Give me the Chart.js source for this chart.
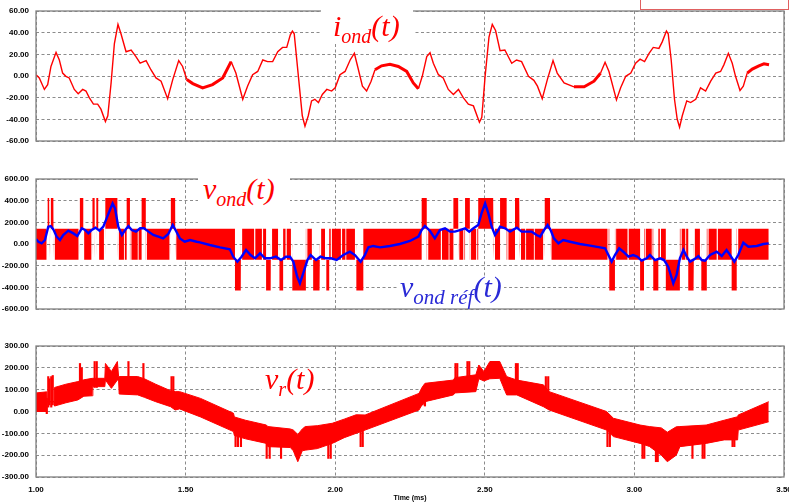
<!DOCTYPE html>
<html><head><meta charset="utf-8">
<script src="https://cdn.jsdelivr.net/npm/chart.js@4"></script>
<style>
body{margin:0;background:#fff;width:789px;height:503px;overflow:hidden;position:relative;}
canvas{position:absolute;left:0;}
.box{position:absolute;background:#fff;}
.lab{position:absolute;font-family:"Liberation Serif","DejaVu Serif",serif;font-style:italic;white-space:nowrap;line-height:30px;font-size:30px;}
.lab .s{position:relative;top:7px;font-size:20px;}
.legendbox{position:absolute;left:640px;top:-2px;width:147px;height:10px;border:1px solid #e06060;background:#fff;}
</style></head><body>
<canvas id="c1" width="789" height="155" style="top:0"></canvas>
<canvas id="c2" width="789" height="165" style="top:155px"></canvas>
<canvas id="c3" width="789" height="183" style="top:320px"></canvas>
<div class="legendbox"></div>
<div class="box" style="left:321px;top:0;width:92px;height:44px"></div>
<div class="lab" style="left:333px;top:11px;color:#ff0000">i<span class="s">ond</span>(t)</div>
<div class="box" style="left:198px;top:165px;width:92px;height:61px"></div>
<div class="lab" style="left:203px;top:174px;color:#ff0000">v<span class="s">ond</span>(t)</div>
<div class="box" style="left:398px;top:276px;width:106px;height:32px"></div>
<div class="lab" style="left:400px;top:272px;color:#2a2ad6">v<span class="s" style="font-size:21px">ond réf</span>(t)</div>
<div class="box" style="left:262px;top:371px;width:56px;height:29px"></div>
<div class="lab" style="left:265px;top:364px;color:#ff0000">v<span class="s">r</span>(t)</div>
<script>
// ---------- Panel 1 : i_ond(t) ----------
const iondT = [1.000,1.011,1.028,1.039,1.050,1.067,1.078,1.089,1.100,1.111,1.128,1.141,1.156,1.167,1.178,1.192,1.206,1.217,1.232,1.240,1.251,1.262,1.274,1.284,1.301,1.318,1.334,1.348,1.368,1.384,1.401,1.418,1.440,1.457,1.477,1.490,1.504,1.524,1.557,1.590,1.624,1.652,1.668,1.691,1.707,1.724,1.741,1.758,1.774,1.791,1.808,1.824,1.838,1.850,1.857,1.863,1.877,1.890,1.899,1.910,1.921,1.932,1.944,1.957,1.972,1.988,2.000,2.016,2.033,2.050,2.064,2.075,2.091,2.105,2.120,2.133,2.155,2.183,2.211,2.239,2.261,2.278,2.291,2.306,2.317,2.328,2.345,2.361,2.378,2.395,2.412,2.428,2.445,2.462,2.482,2.490,2.501,2.514,2.525,2.536,2.551,2.567,2.590,2.606,2.623,2.646,2.664,2.676,2.692,2.709,2.728,2.742,2.765,2.798,2.832,2.865,2.887,2.902,2.915,2.940,2.954,2.971,2.988,3.004,3.019,3.034,3.049,3.063,3.082,3.093,3.107,3.113,3.123,3.134,3.143,3.151,3.160,3.175,3.188,3.205,3.221,3.238,3.255,3.272,3.288,3.299,3.314,3.327,3.338,3.353,3.364,3.377,3.394,3.416,3.433,3.450];
const iondV = [1.2,-1.8,-12.4,-8,8.8,21.8,14.8,2.7,-0.3,-1.8,-12.4,-16.4,-12.4,-13.9,-20,-26,-26,-30.6,-42,-36.7,-6.4,30,47.6,39,22.4,24,17.9,11.8,14.2,5.8,-1.8,-4.8,-20.9,-3.3,14.2,8.8,-3.3,-7,-10.9,-7.9,-1.8,13.3,2.7,-21.5,-9.4,1.2,4.2,14.8,13.3,13.3,22.4,26.4,26.4,38,41.5,39,-0.3,-36.7,-46.4,-36.7,-23,-21.5,-24.5,-17,-12.4,-13.9,-10.9,1.2,4.2,14.8,20.9,8.8,-9.4,-13.9,-4.8,5.8,9.4,10.9,8.8,4.2,-6.4,-11.8,-0.3,17.9,21.5,11.8,1.2,-1.8,-12.4,-17,-12.4,-20,-26,-27.6,-42.7,-38.2,-0.3,36,47.6,42,23.3,24,11.8,14.8,13.3,-0.3,-4,-9.4,-20.9,-3.3,14.2,2.7,-6.4,-10,-10,-4.8,2.7,12.7,4.2,-22.1,-10.9,-0.3,2.7,11.8,15.5,13.3,20.9,26.4,25.5,31.5,41.5,39,14.8,-21.5,-39.7,-47.3,-36.7,-23,-24.5,-21.5,-10.9,-13.9,-4.8,2.7,4.2,10.3,20.9,11.8,-0.3,-13.3,-9.4,2.7,6.4,9.4,11.2,10.3];
const iondRipple = [[1.50,1.63],[2.13,2.27],[2.77,2.88],[3.37,3.45]];

// ---------- Panel 2 : v_ond(t) PWM levels and v_ond ref(t) ----------
const pwmLevels = [-430,-145,140,425];
const pwmSpan = [1.000,3.449];
const pwmPos = [[1.039,1.044],[1.050,1.058],[1.147,1.158],[1.189,1.196],[1.202,1.208],[1.232,1.272],[1.303,1.314],[1.353,1.367],[1.451,1.465],[2.289,2.306],[2.395,2.411],[2.434,2.450],[2.478,2.528],[2.551,2.573],[2.601,2.615],[2.701,2.718]];
const pwmNeg = [[1.665,1.684],[1.769,1.784],[1.815,1.826],[1.858,1.902],[1.927,1.947],[1.971,1.980],[2.072,2.094],[2.916,2.935],[3.019,3.032],[3.063,3.080],[3.105,3.152],[3.180,3.197],[3.225,3.242],[3.325,3.342]];
const pwmGap = [[1.035,1.039],[1.045,1.049],[1.059,1.063],[1.142,1.146],[1.158,1.161],[1.185,1.188],[1.197,1.201],[1.208,1.211],[1.227,1.231],[1.273,1.277],[1.294,1.297],[1.315,1.319],[1.340,1.343],[1.368,1.371],[1.446,1.450],[1.466,1.469],
  [1.685,1.689],[1.729,1.733],[1.755,1.759],[1.785,1.789],[1.809,1.813],[1.834,1.838],[1.852,1.856],[1.903,1.907],[1.922,1.926],[1.949,1.953],[1.966,1.970],[1.985,1.989],[2.019,2.023],[2.034,2.037],[2.066,2.070],
  [2.307,2.311],[2.353,2.357],[2.379,2.382],[2.412,2.415],[2.428,2.432],[2.451,2.454],[2.471,2.475],[2.530,2.534],[2.575,2.579],[2.617,2.621],[2.635,2.638],[2.664,2.667],[2.695,2.699],[2.719,2.723],
  [2.910,2.914],[2.936,2.939],[2.977,2.981],[3.034,3.038],[3.058,3.061],[3.085,3.089],[3.154,3.158],[3.170,3.173],[3.199,3.202],[3.219,3.223],[3.244,3.248],[3.275,3.279],[3.343,3.347]];
const vrefT = [1.000,1.008,1.019,1.030,1.041,1.049,1.058,1.069,1.080,1.091,1.108,1.125,1.138,1.153,1.164,1.175,1.186,1.199,1.212,1.225,1.236,1.247,1.256,1.264,1.275,1.287,1.298,1.309,1.320,1.334,1.348,1.361,1.376,1.392,1.409,1.425,1.442,1.457,1.468,1.481,1.497,1.515,1.537,1.548,1.581,1.615,1.648,1.659,1.673,1.687,1.702,1.717,1.732,1.749,1.765,1.782,1.802,1.819,1.835,1.849,1.860,1.873,1.882,1.893,1.907,1.918,1.936,1.951,1.969,1.986,2.005,2.027,2.049,2.066,2.085,2.099,2.111,2.127,2.150,2.183,2.216,2.250,2.278,2.289,2.300,2.317,2.333,2.350,2.367,2.384,2.400,2.417,2.434,2.448,2.462,2.478,2.489,2.501,2.512,2.523,2.534,2.545,2.551,2.568,2.584,2.607,2.623,2.640,2.657,2.673,2.685,2.698,2.710,2.720,2.731,2.746,2.762,2.785,2.818,2.852,2.885,2.902,2.913,2.924,2.935,2.949,2.963,2.980,2.996,3.010,3.024,3.041,3.052,3.069,3.086,3.099,3.113,3.130,3.141,3.152,3.164,3.175,3.186,3.199,3.214,3.225,3.236,3.253,3.275,3.292,3.308,3.320,3.334,3.347,3.364,3.381,3.409,3.431,3.449];
const vrefV = [46,21,6,37,160,166,135,68,37,83,123,98,74,145,129,98,129,151,123,160,237,314,375,329,160,83,129,166,129,114,145,145,114,83,68,52,92,175,120,52,21,37,21,15,-9,-31,-49,-117,-163,-117,-55,-102,-132,-86,-132,-132,-117,-148,-117,-117,-163,-302,-363,-271,-148,-102,-148,-117,-132,-132,-148,-102,-71,-102,-163,-102,-31,-18,-31,-18,0,28,68,129,166,120,52,129,145,114,114,129,145,114,145,175,283,375,283,160,83,129,160,145,114,151,114,114,114,83,68,129,175,129,52,6,37,21,0,-15,-31,-40,-102,-163,-102,-40,-71,-117,-102,-117,-154,-132,-102,-148,-132,-148,-209,-363,-286,-132,-55,-117,-163,-142,-111,-148,-154,-102,-71,-111,-55,-102,-163,-102,12,-25,-18,0,6];

// ---------- Panel 3 : v_r(t) band envelope and switching spikes ----------
const vrT  = [1.000,1.036,1.037,1.061,1.062,1.100,1.140,1.160,1.188,1.190,1.230,1.232,1.252,1.272,1.276,1.278,1.340,1.362,1.400,1.450,1.465,1.480,1.550,1.660,1.663,1.700,1.770,1.775,1.850,1.860,1.875,1.890,1.900,1.940,1.990,2.030,2.070,2.100,2.280,2.290,2.300,2.395,2.400,2.470,2.480,2.497,2.517,2.550,2.573,2.607,2.696,2.715,2.907,2.930,3.019,3.050,3.090,3.110,3.140,3.152,3.240,3.300,3.345,3.347,3.449];
const vrHi = [85,90,45,45,110,125,137,145,152,152,152,220,183,229,160,160,160,150,125,95,91,91,60,-8,-25,-40,-62,-69,-80,-85,-105,-80,-69,-65,-54,-35,-15,-16,83,110,129,144,155,168,213,183,229,229,160,144,122,91,0,-31,-62,-69,-75,-95,-70,-69,-62,-40,-24,-16,45];
const vrLo = [0,0,45,45,25,40,53,70,72,114,114,144,106,144,144,80,76,65,45,22,7,12,-25,-92,-110,-125,-146,-161,-165,-180,-230,-180,-177,-170,-146,-120,-100,-85,7,30,45,76,85,91,150,140,150,152,76,76,22,7,-85,-115,-146,-160,-200,-230,-200,-161,-146,-130,-130,-85,-47];
const vrSpikeT  = [1.036,1.041,1.045,1.051,1.056,1.147,1.153,1.196,1.203,1.309,1.359,1.453,1.459,1.667,1.675,1.685,1.771,1.781,1.819,1.977,1.985,2.085,2.092,2.292,2.300,2.402,2.408,2.442,2.448,2.604,2.610,2.704,2.712,2.910,2.918,3.027,3.033,3.072,3.078,3.194,3.228,3.234,3.328,3.334];
const vrSpikeLo = [-10,20,30,20,30,100,100,110,110,120,90,40,40,-161,-161,-161,-215,-215,-215,-215,-215,-161,-161,30,25,100,100,120,120,100,100,40,40,-161,-161,-215,-215,-230,-230,-215,-215,-215,-161,-161];
const vrSpikeHi = [60,160,150,160,165,220,200,229,229,229,220,160,160,-60,-60,-60,-100,-100,-100,-100,-100,-60,-60,90,100,220,220,229,229,220,220,160,160,-40,-40,-100,-100,-100,-100,-100,-100,-100,-60,-60];

// ---------- helpers ----------
const pts = (xs, ys) => xs.map((x, i) => ({x, y: ys[i]}));
function pwmEnvelope() {
  const cuts = new Set(pwmSpan);
  [pwmPos, pwmNeg, pwmGap].forEach(l => l.forEach(([a, b]) => { cuts.add(a); cuts.add(b); }));
  const ts = [...cuts].filter(t => t >= pwmSpan[0] && t <= pwmSpan[1]).sort((a, b) => a - b);
  const inside = (l, t) => l.some(([a, b]) => t > a && t < b);
  const hi = [], lo = [];
  for (let i = 0; i < ts.length - 1; i++) {
    const a = ts[i], b = ts[i + 1], m = (a + b) / 2;
    let h = pwmLevels[2], l = pwmLevels[1];
    if (inside(pwmPos, m)) { h = pwmLevels[3]; l = pwmLevels[2]; }
    else if (inside(pwmNeg, m)) { h = pwmLevels[1]; l = pwmLevels[0]; }
    else if (inside(pwmGap, m)) { h = 0; l = 0; }
    hi.push({x: a, y: h}, {x: b, y: h});
    lo.push({x: a, y: l}, {x: b, y: l});
  }
  return {hi, lo};
}

const GRID = '#8c8c8c';
const tickFont = {family: 'Liberation Sans', size: 8, weight: 'bold'};
const boxPlugin = {
  id: 'frame',
  afterDatasetsDraw(chart) {
    const a = chart.chartArea, c = chart.ctx;
    c.save(); c.strokeStyle = '#808080'; c.lineWidth = 1.3; c.setLineDash([]);
    c.strokeRect(a.left, a.top, a.right - a.left, a.bottom - a.top);
    c.restore();
  }
};
function options(yMin, yMax, yStep, padTop, padBottom, showX) {
  return {
    responsive: false, animation: false, events: [],
    layout: {padding: {left: 0, right: 5, top: padTop, bottom: padBottom}},
    plugins: {legend: {display: false}, tooltip: {enabled: false}},
    elements: {point: {radius: 0}},
    scales: {
      x: {
        type: 'linear', min: 1, max: 3.5, offset: false,
        ticks: {stepSize: 0.5, display: showX, padding: 8, color: '#000', font: tickFont,
                maxRotation: 0, autoSkip: false, callback: v => v.toFixed(2)},
        grid: {color: GRID, lineWidth: 1, drawTicks: false, offset: false},
        border: {display: false, dash: [3, 2.5]},
        title: {display: showX, text: 'Time (ms)', color: '#000',
                font: {family: 'Liberation Sans', size: 7, weight: 'bold'}, padding: {top: 0, bottom: 1}},
        afterFit(s) { s.height = showX ? 26 : 0; s.paddingLeft = 0; s.paddingRight = 0; }
      },
      y: {
        min: yMin, max: yMax,
        ticks: {stepSize: yStep, padding: 7, color: '#000', font: tickFont, callback: v => v.toFixed(2)},
        grid: {color: GRID, lineWidth: 1, drawTicks: false},
        border: {display: false, dash: [3, 2.5]},
        afterFit(s) { s.width = 36; s.paddingTop = 0; s.paddingBottom = 0; }
      }
    }
  };
}

// Panel 1
new Chart(document.getElementById('c1'), {
  type: 'line',
  data: {datasets: [{
    data: pts(iondT, iondV), borderColor: '#ff0000', borderWidth: 1.4, pointRadius: 0, tension: 0,
    segment: {borderWidth: ctx => iondRipple.some(([a, b]) => ctx.p0.parsed.x >= a && ctx.p0.parsed.x < b) ? 3 : 1.4}
  }]},
  options: options(-60, 60, 20, 11, 14, false),
  plugins: [boxPlugin]
});

// Panel 2
const env = pwmEnvelope();
new Chart(document.getElementById('c2'), {
  type: 'line',
  data: {datasets: [
    {data: pts(vrefT, vrefV), borderColor: '#0000ff', borderWidth: 2.4, pointRadius: 0, tension: 0},
    {data: env.hi, borderWidth: 0, borderColor: 'rgba(0,0,0,0)', backgroundColor: '#ff0000', fill: '+1', pointRadius: 0},
    {data: env.lo, borderWidth: 0, borderColor: 'rgba(0,0,0,0)', pointRadius: 0, fill: false}
  ]},
  options: options(-600, 600, 200, 24, 11, false),
  plugins: [boxPlugin]
});

// Panel 3
new Chart(document.getElementById('c3'), {
  type: 'line',
  data: {datasets: [
    {type: 'bar', data: vrSpikeT.map((t, i) => ({x: t, y: [vrSpikeLo[i], vrSpikeHi[i]]})),
     backgroundColor: '#ff0000', barThickness: 1.5, borderWidth: 0, grouped: false},
    {data: pts(vrT, vrHi), borderWidth: 1, borderColor: '#ff0000', backgroundColor: '#ff0000', fill: '+1', pointRadius: 0},
    {data: pts(vrT, vrLo), borderWidth: 1, borderColor: '#ff0000', pointRadius: 0, fill: false}
  ]},
  options: options(-300, 300, 100, 26, 0, true),
  plugins: [boxPlugin]
});
</script>
</body></html>
